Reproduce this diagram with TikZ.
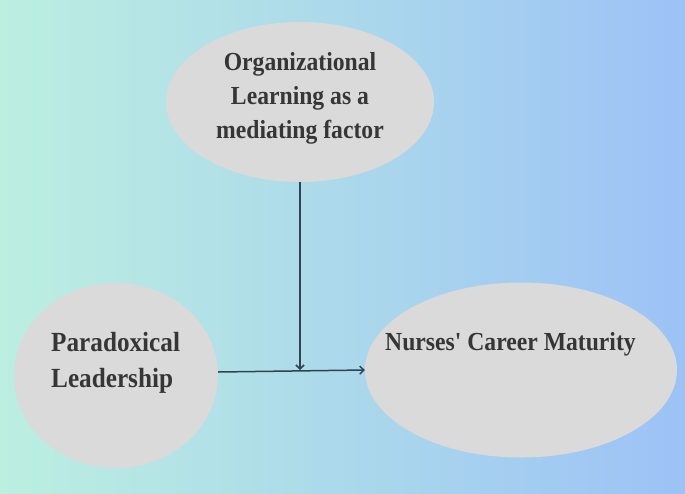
\documentclass[tikz,border=0pt]{standalone}
\usepackage{fontspec}
\newfontfamily\capfont{Liberation Serif}[FakeStretch=0.91]
\usetikzlibrary{shapes.geometric,arrows.meta}

\definecolor{bgleft}{HTML}{BCEFE0}
\definecolor{bgmid}{HTML}{B0DDEA}
\definecolor{bgright}{HTML}{9CC2F6}
\definecolor{bubblegrey}{HTML}{DADADA}
\definecolor{textgrey}{HTML}{363636}
\definecolor{linkslate}{HTML}{2E4450}

\begin{document}
\begin{tikzpicture}[x=1pt,y=-1pt,
	bubble/.style={ellipse,fill=bubblegrey,inner sep=0pt},
	caption/.style={font=\capfont\fontsize{26}{34}\selectfont\bfseries,text=textgrey,inner sep=0pt},
	link/.style={draw=linkslate,line width=1.5pt,-{Straight Barb[length=4pt,width=8pt]}}]

	\useasboundingbox (0,0) rectangle (685,493);
	\fill[left color=bgleft,middle color=bgmid,right color=bgright] (0,0) rectangle (685,493);

	\node[bubble,minimum width=268pt,minimum height=160pt] (learning) at (300,102) {};
	\node[bubble,minimum width=204pt,minimum height=185pt] (leader) at (116,375.5) {};
	\node[bubble,minimum width=312pt,minimum height=175pt] (career) at (521,370) {};

	\node[caption,align=center] (learningtext) at (300,98) {Organizational\\Learning as a\\mediating factor};
	\node[caption,align=left,anchor=west,font=\capfont\fontsize{27.7}{36}\selectfont\bfseries] (leadertext) at (51,363) {Paradoxical\\Leadership};
	\node[caption,anchor=base] (careertext) at (510.5,350) {Nurses' Career Maturity};

	\coordinate (join) at (300,370);
	\draw[link] ([yshift=3.5pt]leader.east) -- (career.west);
	\draw[link] (learning.south) -- (join);

\end{tikzpicture}
\end{document}
